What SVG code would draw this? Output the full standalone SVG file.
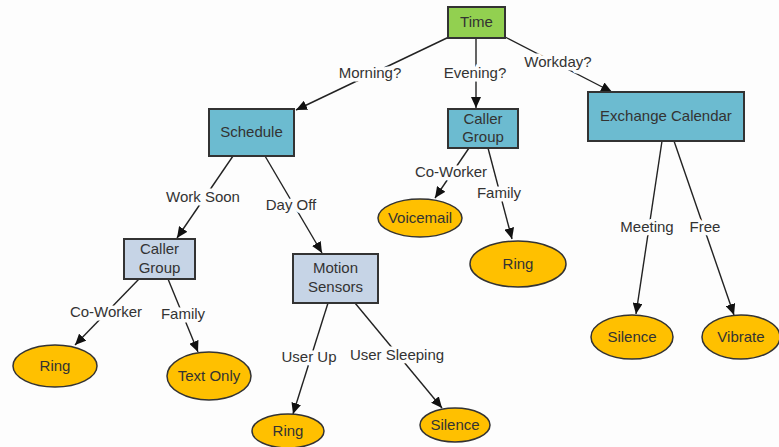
<svg xmlns="http://www.w3.org/2000/svg" width="779" height="447" viewBox="0 0 779 447">
<defs>
<marker id="arr" markerUnits="userSpaceOnUse" markerWidth="12" markerHeight="10" refX="11" refY="5" orient="auto">
<path d="M0,0 L11,5 L0,10 z" fill="#111"/>
</marker>
<style>
text{font-family:"Liberation Sans",Arial,sans-serif;font-size:15px;fill:#333;text-anchor:middle}
.lbl{stroke:#fdfdfd;stroke-width:7px;paint-order:stroke;stroke-linejoin:round}
.edge{stroke:#222;stroke-width:1.4;fill:none;marker-end:url(#arr)}
.g{fill:#92D050;stroke:#333;stroke-width:2}
.b{fill:#6CBBD0;stroke:#333;stroke-width:2}
.lb{fill:#C6D4E6;stroke:#333;stroke-width:2}
.o{fill:#FFC000;stroke:#333;stroke-width:1.5}
</style>
</defs>
<rect width="779" height="447" fill="#fdfdfd"/>
<g id="connectors">
<line class="edge" x1="449" y1="37" x2="296" y2="110"/>
<line class="edge" x1="476" y1="38" x2="476" y2="108"/>
<line class="edge" x1="505" y1="37" x2="612" y2="92"/>
<line class="edge" x1="233" y1="156" x2="177" y2="238"/>
<line class="edge" x1="265" y1="156" x2="322" y2="253"/>
<line class="edge" x1="139" y1="279" x2="75" y2="345"/>
<line class="edge" x1="168" y1="279" x2="198" y2="352"/>
<line class="edge" x1="328" y1="303" x2="293" y2="414"/>
<line class="edge" x1="355" y1="303" x2="442" y2="408"/>
<line class="edge" x1="469" y1="148" x2="435" y2="198"/>
<line class="edge" x1="488" y1="148" x2="512" y2="239"/>
<line class="edge" x1="662" y1="141" x2="636" y2="314"/>
<line class="edge" x1="674" y1="141" x2="734" y2="315"/>
<text class="lbl" x="370" y="78">Morning?</text>
<text class="lbl" x="475" y="78">Evening?</text>
<text class="lbl" x="558" y="67">Workday?</text>
<text class="lbl" x="203" y="202">Work Soon</text>
<text class="lbl" x="291" y="210">Day Off</text>
<text class="lbl" x="106" y="317">Co-Worker</text>
<text class="lbl" x="183" y="319">Family</text>
<text class="lbl" x="309" y="362">User Up</text>
<text class="lbl" x="397" y="360">User Sleeping</text>
<text class="lbl" x="451" y="177">Co-Worker</text>
<text class="lbl" x="499" y="198">Family</text>
<text class="lbl" x="647" y="232">Meeting</text>
<text class="lbl" x="705" y="232">Free</text>
</g>
<g id="time"><rect class="g" x="448" y="7" width="57" height="31"/><text x="476.5" y="27">Time</text></g>
<g id="schedule"><rect class="b" x="209" y="109" width="85" height="47"/><text x="251.5" y="137">Schedule</text></g>
<g id="caller-group-evening"><rect class="b" x="448" y="109" width="70" height="39"/><text x="483" y="124">Caller</text><text x="483" y="142">Group</text></g>
<g id="exchange-calendar"><rect class="b" x="588" y="92" width="156" height="49"/><text x="666" y="121">Exchange Calendar</text></g>
<g id="caller-group-morning"><rect class="lb" x="124" y="239" width="71" height="40"/><text x="159.5" y="254">Caller</text><text x="159.5" y="273">Group</text></g>
<g id="motion-sensors"><rect class="lb" x="293" y="254" width="85" height="49"/><text x="335.5" y="273">Motion</text><text x="335.5" y="292">Sensors</text></g>
<g id="ring-coworker"><ellipse class="o" cx="55" cy="366" rx="42" ry="21"/><text x="55" y="371">Ring</text></g>
<g id="text-only"><ellipse class="o" cx="209" cy="376" rx="42" ry="24"/><text x="209" y="381">Text Only</text></g>
<g id="ring-user-up"><ellipse class="o" cx="288" cy="431" rx="36" ry="17"/><text x="288" y="436">Ring</text></g>
<g id="silence-sleeping"><ellipse class="o" cx="455" cy="425" rx="35" ry="17"/><text x="455" y="430">Silence</text></g>
<g id="voicemail"><ellipse class="o" cx="420" cy="218" rx="42" ry="19"/><text x="420" y="223">Voicemail</text></g>
<g id="ring-family"><ellipse class="o" cx="518" cy="264" rx="48" ry="23"/><text x="518" y="269">Ring</text></g>
<g id="silence-meeting"><ellipse class="o" cx="632" cy="337" rx="41" ry="22"/><text x="632" y="342">Silence</text></g>
<g id="vibrate"><ellipse class="o" cx="741" cy="337" rx="39" ry="22"/><text x="741" y="342">Vibrate</text></g>
</svg>
